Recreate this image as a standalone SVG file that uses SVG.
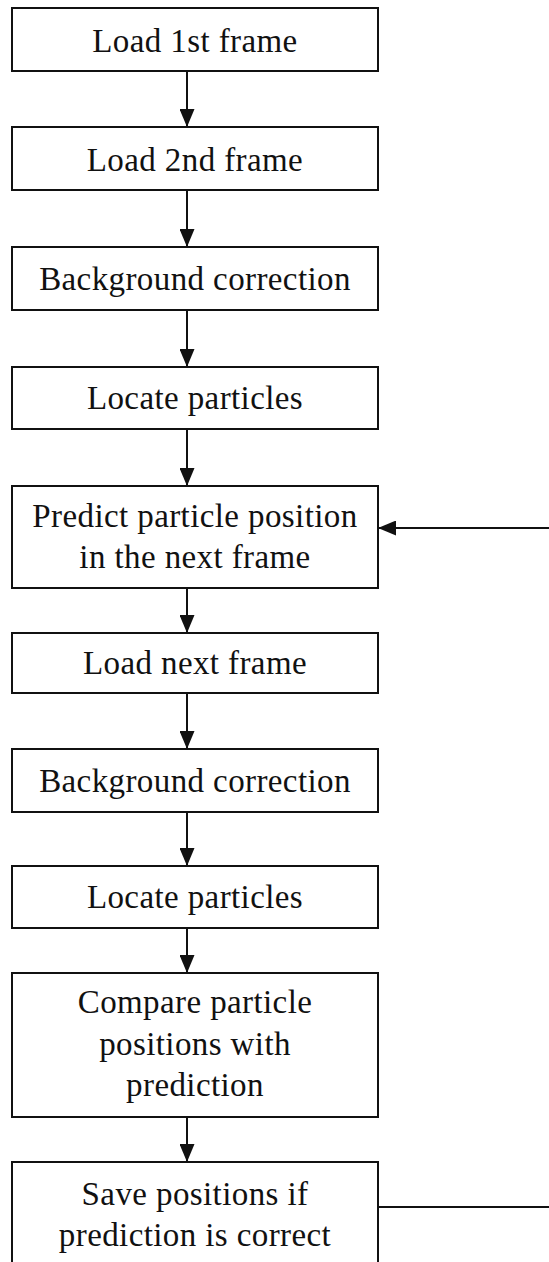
<svg xmlns="http://www.w3.org/2000/svg" width="549" height="1262" viewBox="0 0 549 1262">
  <style>
    .box { fill: #ffffff; stroke: #111111; stroke-width: 2; }
    .label { font-family: "Liberation Serif", "Times New Roman", serif; font-size: 33px; letter-spacing: 0.4px; fill: #111111; text-anchor: middle; }
    .edge { fill: none; stroke: #111111; stroke-width: 2; marker-end: url(#head); }
    .plain { fill: none; stroke: #111111; stroke-width: 2; }
  </style>
  <defs>
    <marker id="head" markerUnits="userSpaceOnUse" viewBox="0 -7.5 18 15" refX="18" refY="0" markerWidth="18" markerHeight="15" orient="auto">
      <path d="M0,-7.5 L18,0 L0,7.5 z" fill="#111111"/>
    </marker>
  </defs>
  <rect width="549" height="1262" fill="#ffffff"/>

  <g id="connectors">
    <path class="edge" d="M187,71 V127"/>
    <path class="edge" d="M187,190 V247"/>
    <path class="edge" d="M187,310 V367"/>
    <path class="edge" d="M187,429 V486"/>
    <path class="edge" d="M187,588 V633"/>
    <path class="edge" d="M187,693 V749"/>
    <path class="edge" d="M187,812 V866"/>
    <path class="edge" d="M187,928 V973"/>
    <path class="edge" d="M187,1117 V1162"/>
    <!-- loop back: leaves the last step on the right, re-enters the prediction step -->
    <path class="plain" d="M378,1207 H549"/>
    <path class="edge" d="M549,528 H378"/>
  </g>

  <g id="load-first">
    <rect class="box" x="12" y="8" width="366" height="63"/>
    <text class="label" x="195" y="52">Load 1st frame</text>
  </g>
  <g id="load-second">
    <rect class="box" x="12" y="127" width="366" height="63"/>
    <text class="label" x="195" y="171">Load 2nd frame</text>
  </g>
  <g id="background-1">
    <rect class="box" x="12" y="247" width="366" height="63"/>
    <text class="label" x="195" y="290">Background correction</text>
  </g>
  <g id="locate-1">
    <rect class="box" x="12" y="367" width="366" height="62"/>
    <text class="label" x="195" y="409">Locate particles</text>
  </g>
  <g id="predict">
    <rect class="box" x="12" y="486" width="366" height="102"/>
    <text class="label" x="195" y="527">Predict particle position</text>
    <text class="label" x="195" y="568">in the next frame</text>
  </g>
  <g id="load-next">
    <rect class="box" x="12" y="633" width="366" height="60"/>
    <text class="label" x="195" y="674">Load next frame</text>
  </g>
  <g id="background-2">
    <rect class="box" x="12" y="749" width="366" height="63"/>
    <text class="label" x="195" y="792">Background correction</text>
  </g>
  <g id="locate-2">
    <rect class="box" x="12" y="866" width="366" height="62"/>
    <text class="label" x="195" y="908">Locate particles</text>
  </g>
  <g id="compare">
    <rect class="box" x="12" y="973" width="366" height="144"/>
    <text class="label" x="195" y="1013">Compare particle</text>
    <text class="label" x="195" y="1055">positions with</text>
    <text class="label" x="195" y="1096">prediction</text>
  </g>
  <g id="save">
    <rect class="box" x="12" y="1162" width="366" height="130"/>
    <text class="label" x="195" y="1205">Save positions if</text>
    <text class="label" x="195" y="1246">prediction is correct</text>
  </g>
</svg>
